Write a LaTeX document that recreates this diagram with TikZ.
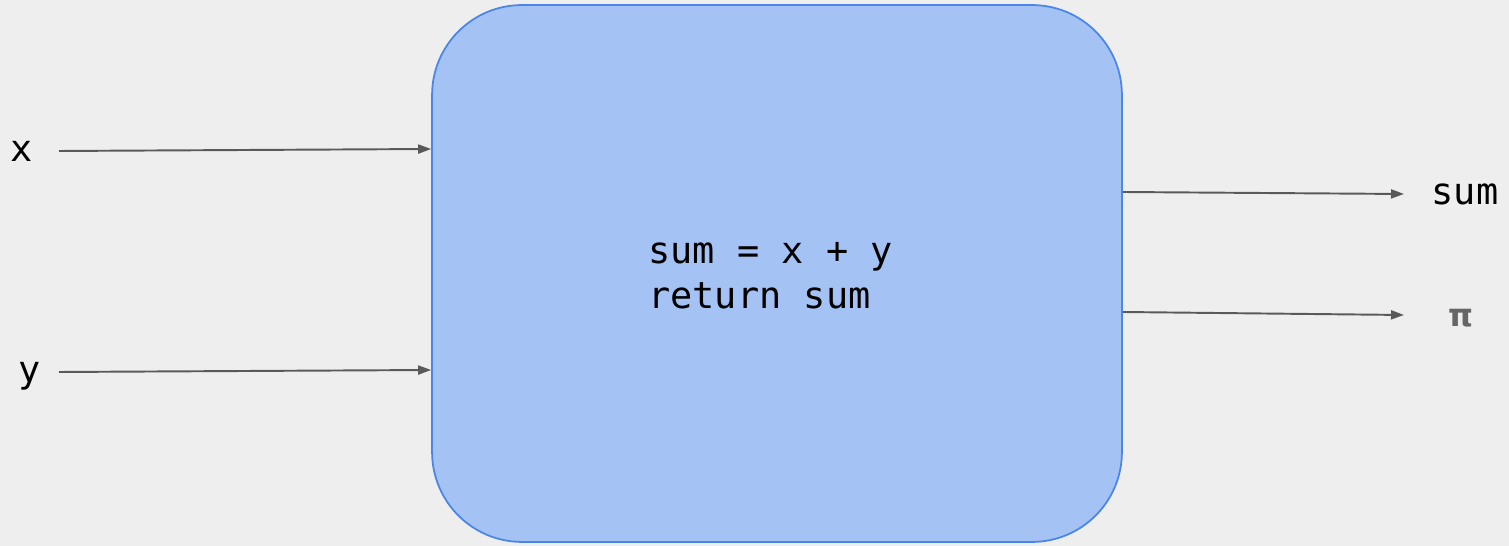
\documentclass[tikz,border=0pt]{standalone}
\usepackage{fontspec}
\setmonofont{DejaVu Sans Mono}
\newfontfamily\pifont{DejaVu Sans}
\usepackage{tikz}
\usetikzlibrary{arrows.meta,positioning}
\definecolor{paper}{HTML}{EEEEEE}
\definecolor{boxfill}{HTML}{A4C2F4}
\definecolor{boxline}{HTML}{4A86E8}
\definecolor{wire}{HTML}{595959}
\definecolor{pigray}{HTML}{666666}

\begin{document}
\begin{tikzpicture}[x=0.02cm,y=-0.02cm,
 fn/.style={draw=boxline,line width=1pt,fill=boxfill,rounded corners=1.8cm,minimum width=13.8cm,minimum height=10.74cm,inner sep=0pt},
 lbl/.style={inner sep=0pt,anchor=base,font=\ttfamily\fontsize{21}{25}\selectfont},
 wire/.style={-{Triangle[length=2.6mm,width=1.8mm]},line width=1.1pt,color=wire}]
 \useasboundingbox[fill=paper] (0,0) rectangle (1509,546);
 \node[fn] (f) at (777,273.5) {};
 \node[lbl,anchor=base west,align=left,font=\ttfamily\fontsize{21}{26}\selectfont] (code) at (648,309) {sum = x + y\\return sum};
 \node[lbl] (x) at (22,162) {x};
 \node[lbl] (y) at (30,383) {y};
 \node[lbl] (s) at (1465,205) {sum};
 \node[lbl,font=\pifont\bfseries\fontsize{18}{18}\selectfont,text=pigray] (p) at (1461,327) {π};
 \coordinate (xin) at (59,151);
 \coordinate (yin) at (59,372);
 \coordinate (sout) at (1404,194);
 \coordinate (pout) at (1404,315);
 \draw[wire] (xin) -- (f.west |- 0,149);
 \draw[wire] (yin) -- (f.west |- 0,370);
 \draw[wire] (f.east |- 0,192) -- (sout);
 \draw[wire] (f.east |- 0,312) -- (pout);
\end{tikzpicture}
\end{document}
